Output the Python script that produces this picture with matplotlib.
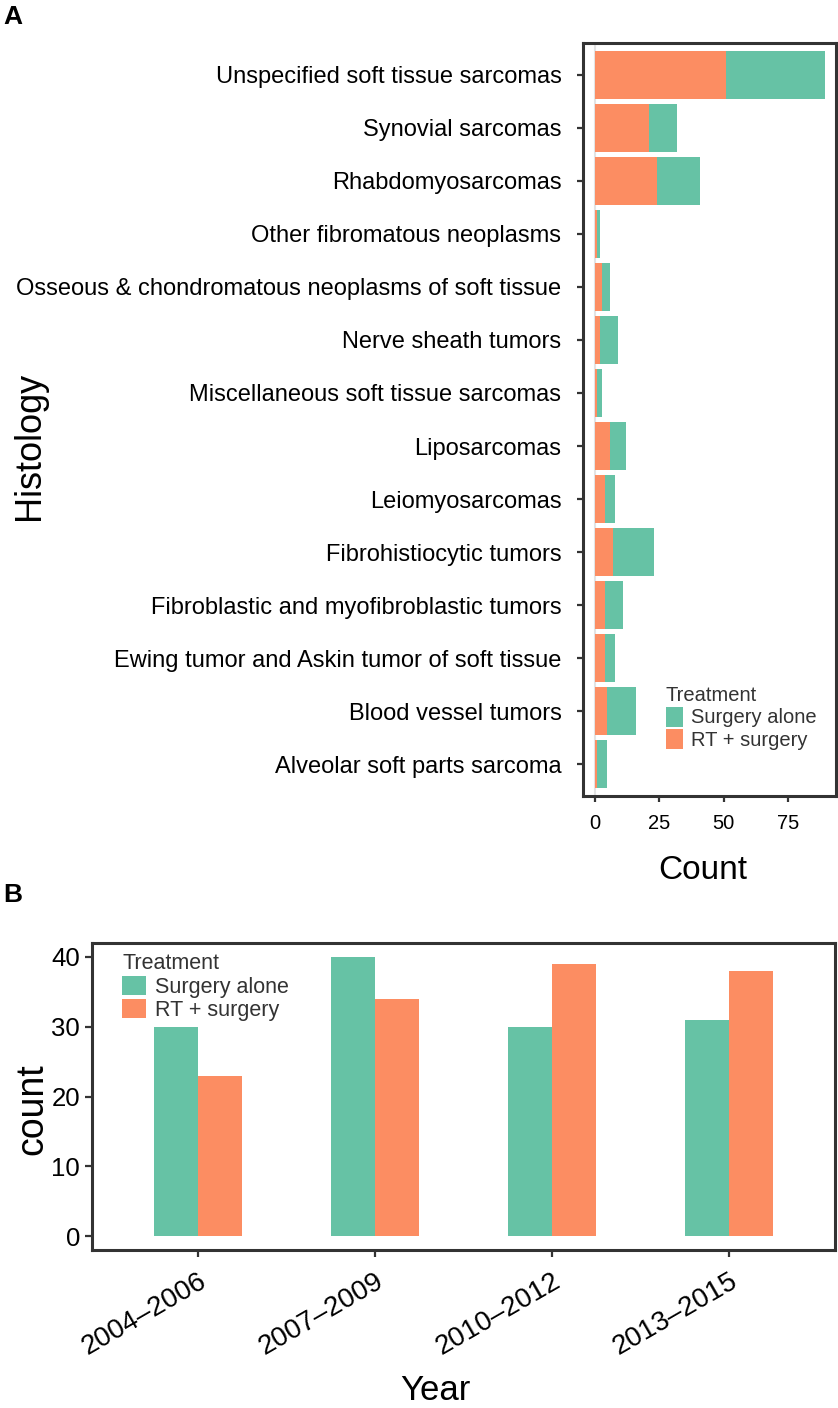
import numpy as np
import matplotlib
matplotlib.use('Agg')
import matplotlib.pyplot as plt
from matplotlib.patches import Patch

# ---- data ----
histology = [
    "Unspecified soft tissue sarcomas",
    "Synovial sarcomas",
    "Rhabdomyosarcomas",
    "Other fibromatous neoplasms",
    "Osseous & chondromatous neoplasms of soft tissue",
    "Nerve sheath tumors",
    "Miscellaneous soft tissue sarcomas",
    "Liposarcomas",
    "Leiomyosarcomas",
    "Fibrohistiocytic tumors",
    "Fibroblastic and myofibroblastic tumors",
    "Ewing tumor and Askin tumor of soft tissue",
    "Blood vessel tumors",
    "Alveolar soft parts sarcoma",
]
rt_surgery = [51, 21, 24, 1, 3, 2, 1, 6, 4, 7, 4, 4, 5, 1]
surgery_alone = [38, 11, 17, 1, 3, 7, 2, 6, 4, 16, 7, 4, 11, 4]

years = ["2004\u20132006", "2007\u20132009", "2010\u20132012", "2013\u20132015"]
surgery_by_year = [30, 40, 30, 31]
rt_by_year = [23, 34, 39, 38]

# ---- style ----
GREEN = '#66C2A5'
ORANGE = '#FC8D62'
FRAME = '#333333'
SANS = ['Liberation Sans', 'DejaVu Sans']

W, H = 838, 1408
fig = plt.figure(figsize=(W / 100, H / 100), dpi=100)


def px_axes(l, t, r, b):
    return fig.add_axes([l / W, 1 - b / H, (r - l) / W, (b - t) / H])


def frame(ax):
    for s in ax.spines.values():
        s.set_color(FRAME)
        s.set_linewidth(2.2)


def treatment_legend(ax, x0, y0, size, hl, hh):
    handles = [Patch(facecolor=GREEN, label='Surgery alone'),
               Patch(facecolor=ORANGE, label='RT + surgery')]
    leg = ax.legend(handles=handles, title='Treatment', loc='upper left',
                    bbox_to_anchor=(x0 / W, 1 - y0 / H), bbox_transform=fig.transFigure,
                    frameon=False, prop=dict(family=SANS, size=size),
                    title_fontproperties=dict(family=SANS, size=size),
                    alignment='left', borderpad=0, borderaxespad=0,
                    handlelength=hl, handleheight=hh, handletextpad=0.4,
                    labelspacing=0.08)
    for t in leg.get_texts():
        t.set_color(FRAME)
    leg.get_title().set_color(FRAME)
    return leg


# ==========================================
# Panel A: histology, stacked horizontal bars
# ==========================================
axA = px_axes(583, 43, 836, 796)
n = len(histology)
ypos = np.arange(n, 0, -1)
axA.axvline(0, color='#E3E3E3', lw=1.5, zorder=0)
axA.barh(ypos, rt_surgery, height=0.9, color=ORANGE, zorder=2)
axA.barh(ypos, surgery_alone, left=rt_surgery, height=0.9, color=GREEN, zorder=2)
axA.set_xlim(-4.45, 93.45)
axA.set_ylim(0.4, n + 0.6)
axA.set_yticks(ypos)
axA.set_yticklabels(histology, family=SANS, fontsize=17)
axA.set_xticks([0, 25, 50, 75])
axA.set_xticklabels(['0', '25', '50', '75'], family=SANS, fontsize=14.5)
axA.tick_params(axis='y', length=4, width=1.6, color=FRAME, pad=11.5)
axA.tick_params(axis='x', length=4, width=1.6, color=FRAME, pad=9)
frame(axA)

axA.set_xlabel('Count', family=SANS, fontsize=24, va='top')
axA.xaxis.set_label_coords((703 - 583) / 253, -(855 - 796) / 753)
axA.set_ylabel('Histology', family=SANS, fontsize=26)
axA.yaxis.set_label_coords((47 - 583) / 253, 1 - (446 - 43) / 753)

treatment_legend(axA, 666, 686, 14.5, 0.85, 1.15)

fig.text(3 / W, 1 - 5 / H, 'A', family=SANS, fontsize=19, weight='bold', va='top')

# ==========================================
# Panel B: counts by year, dodged bars
# ==========================================
axB = px_axes(92, 943, 835, 1250)
x = np.arange(1, len(years) + 1)
axB.bar(x - 0.125, surgery_by_year, 0.25, color=GREEN)
axB.bar(x + 0.125, rt_by_year, 0.25, color=ORANGE)
axB.set_xlim(0.4, 4.6)
axB.set_ylim(-2, 42)
axB.set_xticks(x)
axB.set_xticklabels(years, rotation=30, ha='right', rotation_mode='anchor',
                    family=SANS, fontsize=20)
axB.set_yticks([0, 10, 20, 30, 40])
axB.set_yticklabels(['0', '10', '20', '30', '40'], family=SANS, fontsize=18.5)
axB.tick_params(axis='y', length=5, width=1.6, color=FRAME, pad=3.5)
axB.tick_params(axis='x', length=5, width=1.6, color=FRAME, pad=8)
frame(axB)

axB.set_xlabel('Year', family=SANS, fontsize=25, va='top')
axB.xaxis.set_label_coords((435 - 92) / 743, -(1374 - 1250) / 307)
axB.set_ylabel('count', family=SANS, fontsize=27)
axB.yaxis.set_label_coords((50 - 92) / 743, 1 - (1109 - 943) / 307)

treatment_legend(axB, 122, 953, 15.5, 1.12, 0.98)

fig.text(3 / W, 1 - 883 / H, 'B', family=SANS, fontsize=19, weight='bold', va='top')

fig.savefig('out.png', dpi=100)
